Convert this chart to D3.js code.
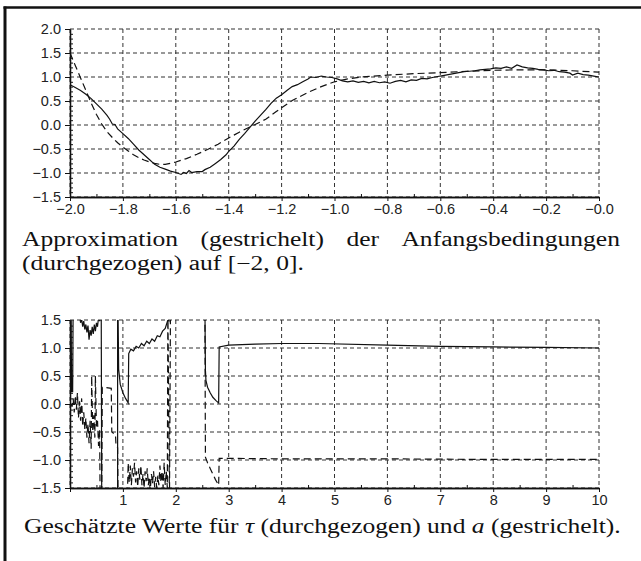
<!DOCTYPE html>
<html>
<head>
<meta charset="utf-8">
<script src="https://cdn.jsdelivr.net/npm/d3@7"></script>
<style>
  body { margin: 0; background: #fff; }
  svg { display: block; }
  .tick text { font-family: "Liberation Sans", Arial, sans-serif; font-size: 14.5px; fill: #222; }
  .cap { font-family: "Liberation Serif", "DejaVu Serif", serif; font-size: 20px; fill: #111; }
</style>
</head>
<body>
<svg id="wykres"></svg>
<script>
// dane - wykres górny (warunki początkowe na [-2,0])
let topSolidX = [-2.00,-1.98,-1.96,-1.94,-1.92,-1.90,-1.88,-1.86,-1.85,-1.84,-1.83,-1.82,-1.80,-1.78,-1.76,-1.74,-1.72,-1.70,-1.68,-1.66,-1.64,-1.62,-1.60,-1.58,-1.57,-1.56,-1.55,-1.54,-1.52,-1.50,-1.49,-1.47,-1.45,-1.43,-1.41,-1.40,-1.38,-1.36,-1.34,-1.32,-1.30,-1.28,-1.26,-1.24,-1.22,-1.20,-1.18,-1.16,-1.14,-1.12,-1.10,-1.09,-1.07,-1.05,-1.03,-1.01,-0.99,-0.97,-0.95,-0.93,-0.91,-0.89,-0.87,-0.85,-0.83,-0.81,-0.79,-0.77,-0.75,-0.73,-0.71,-0.69,-0.67,-0.65,-0.63,-0.61,-0.59,-0.57,-0.55,-0.53,-0.51,-0.49,-0.47,-0.45,-0.43,-0.41,-0.39,-0.37,-0.35,-0.33,-0.31,-0.29,-0.27,-0.25,-0.23,-0.21,-0.19,-0.17,-0.15,-0.13,-0.11,-0.10,-0.08,-0.06,-0.04,-0.02,0.00];
let topSolidY = [0.84,0.78,0.72,0.64,0.55,0.44,0.33,0.20,0.12,0.02,0.01,-0.08,-0.18,-0.28,-0.40,-0.52,-0.62,-0.72,-0.82,-0.88,-0.92,-0.96,-0.99,-1.03,-0.99,-1.01,-0.95,-0.99,-0.97,-0.97,-0.93,-0.88,-0.80,-0.72,-0.62,-0.55,-0.44,-0.30,-0.18,-0.05,0.08,0.20,0.32,0.45,0.56,0.63,0.72,0.80,0.84,0.90,0.96,1.00,0.99,1.02,1.00,0.99,0.96,0.92,0.90,0.92,0.89,0.91,0.88,0.91,0.88,0.90,0.87,0.91,0.93,0.90,0.94,0.93,0.97,0.96,0.99,1.01,1.03,1.05,1.07,1.09,1.11,1.12,1.13,1.15,1.16,1.17,1.19,1.18,1.21,1.18,1.25,1.21,1.19,1.18,1.16,1.15,1.13,1.14,1.11,1.10,1.08,1.04,1.08,1.05,1.04,1.02,1.00];
let topDashedX = [-2.00,-1.98,-1.96,-1.94,-1.92,-1.90,-1.88,-1.86,-1.84,-1.82,-1.80,-1.78,-1.76,-1.74,-1.72,-1.70,-1.68,-1.66,-1.64,-1.62,-1.60,-1.56,-1.52,-1.48,-1.44,-1.40,-1.36,-1.32,-1.30,-1.26,-1.22,-1.20,-1.16,-1.10,-1.05,-1.00,-0.95,-0.90,-0.80,-0.70,-0.60,-0.50,-0.40,-0.30,-0.20,-0.10,0.00];
let topDashedY = [1.50,1.24,0.98,0.72,0.46,0.22,0.02,-0.14,-0.26,-0.37,-0.46,-0.54,-0.62,-0.68,-0.73,-0.77,-0.80,-0.82,-0.82,-0.80,-0.77,-0.70,-0.61,-0.51,-0.40,-0.27,-0.15,-0.04,0.01,0.12,0.28,0.36,0.51,0.68,0.80,0.90,0.96,1.00,1.04,1.07,1.09,1.12,1.14,1.15,1.15,1.13,1.10];

// dane - wykres dolny (tau ciągła, a przerywana)
let tauT = [0.00,0.02,0.03,0.05,0.06,0.18,0.20,0.22,0.24,0.26,0.28,0.30,0.32,0.34,0.36,0.38,0.40,0.42,0.44,0.46,0.48,0.50,0.52,0.54,0.56,0.58,0.59,0.60,0.90,0.90,0.91,0.92,0.95,1.00,1.05,1.10,1.11,1.15,1.20,1.25,1.30,1.35,1.40,1.45,1.50,1.55,1.60,1.65,1.70,1.75,1.80,1.85,1.87,1.88,2.55,2.56,2.57,2.60,2.65,2.70,2.76,2.81,2.82,3.00,3.50,4.00,4.70,6.00,7.00,8.00,9.00,10.00];
let tauV = [1.8,1.8,0.22,0.22,1.8,1.6,1.45,1.52,1.38,1.48,1.33,1.42,1.28,1.40,1.15,1.32,1.22,1.38,1.25,1.42,1.30,1.45,1.38,1.55,1.48,1.60,1.8,-1.8,-1.8,1.8,1.5,0.62,0.35,0.20,0.10,0.02,0.90,0.98,0.95,1.03,1.00,1.08,1.04,1.12,1.08,1.16,1.12,1.22,1.20,1.30,1.35,1.50,1.48,1.8,1.8,0.60,0.42,0.30,0.20,0.12,0.06,0.02,1.02,1.05,1.07,1.08,1.08,1.05,1.03,1.02,1.01,1.00];
let aT = [0.02,0.04,0.06,0.08,0.10,0.12,0.14,0.16,0.18,0.20,0.22,0.24,0.26,0.28,0.30,0.32,0.34,0.36,0.38,0.40,0.41,0.43,0.45,0.47,0.48,0.50,0.52,0.54,0.56,0.57,0.60,0.61,0.78,0.79,0.86,0.87,0.90,0.91,1.08,1.10,1.12,1.14,1.16,1.18,1.20,1.22,1.24,1.26,1.28,1.30,1.32,1.34,1.36,1.38,1.40,1.42,1.44,1.46,1.48,1.50,1.52,1.54,1.56,1.58,1.60,1.62,1.64,1.66,1.68,1.70,1.72,1.74,1.76,1.78,1.80,1.82,1.84,1.85,1.88,1.90,2.55,2.56,2.60,2.65,2.70,2.75,2.81,2.82,3.00,4.00,6.00,8.00,10.00];
let aV = [0.00,-0.05,0.10,-0.15,0.15,-0.10,0.20,-0.25,0.05,-0.30,0.10,-0.40,-0.15,-0.45,-0.25,-0.60,-0.35,-0.70,-0.30,-0.80,0.50,-0.50,-0.20,-0.60,0.50,-0.40,-0.30,-0.75,-0.45,-1.8,-1.8,0.30,0.28,-0.50,-0.55,-0.75,-0.78,-1.8,-1.8,-1.05,-1.40,-1.10,-1.45,-1.15,-1.30,-1.05,-1.40,-1.20,-1.48,-1.15,-1.35,-1.10,-1.45,-1.25,-1.50,-1.20,-1.38,-1.15,-1.45,-1.30,-1.50,-1.25,-1.42,-1.20,-1.48,-1.30,-1.50,-1.28,-1.45,-1.10,-1.40,-1.20,-1.50,-1.05,-1.45,-1.20,-1.50,1.8,-1.8,1.8,1.8,-0.95,-1.05,-1.15,-1.25,-1.35,-1.45,-0.97,-0.97,-0.98,-0.98,-0.99,-0.99];

// osie
let topXTicks = [-2.0,-1.8,-1.6,-1.4,-1.2,-1.0,-0.8,-0.6,-0.4,-0.2,0.0];
let topXLabels = ['−2.0','−1.8','−1.6','−1.4','−1.2','−1.0','−0.8','−0.6','−0.4','−0.2','−0.0'];
let topYTicks = [2.0,1.5,1.0,0.5,0.0,-0.5,-1.0,-1.5];
let topYLabels = ['2.0','1.5','1.0','0.5','0.0','−0.5','−1.0','−1.5'];
let botXTicks = [0,1,2,3,4,5,6,7,8,9,10];
let botXLabels = ['','1','2','3','4','5','6','7','8','9','10'];
let botYTicks = [1.5,1.0,0.5,0.0,-0.5,-1.0,-1.5];
let botYLabels = ['1.5','1.0','0.5','0.0','−0.5','−1.0','−1.5'];

let podpis1 = ['Approximation','(gestrichelt)','der','Anfangsbedingungen'];
let podpis2 = '(durchgezogen) auf [−2, 0].';

let svg = d3.select('#wykres').attr('width', 641).attr('height', 561);

// ramka
svg.append('line').attr('x1', 5).attr('x2', 5).attr('y1', 6.5).attr('y2', 561).attr('stroke', '#111').attr('stroke-width', 3);
svg.append('line').attr('x1', 3.5).attr('x2', 641).attr('y1', 7.5).attr('y2', 7.5).attr('stroke', '#111').attr('stroke-width', 2.5);

function wykres(id, xd, yd, top, bottom, xTicks, xLabels, xMinor, yTicks, yLabels, yMinor, serie) {
	let x = d3.scaleLinear().domain(xd).range([70, 599]);
	let y = d3.scaleLinear().domain(yd).range([bottom, top]);
	let g = svg.append('g');

	g.append('clipPath').attr('id', id).append('rect')
		.attr('x', 70).attr('y', top).attr('width', 529).attr('height', bottom - top);

	// siatka
	g.selectAll('.gx').data(xTicks).enter().append('line')
		.attr('x1', d => x(d)).attr('x2', d => x(d)).attr('y1', top).attr('y2', bottom)
		.attr('stroke', '#333').attr('stroke-width', 1).attr('stroke-dasharray', '4,3');
	g.selectAll('.gy').data(yTicks).enter().append('line')
		.attr('x1', 70).attr('x2', 599).attr('y1', d => y(d)).attr('y2', d => y(d))
		.attr('stroke', '#333').attr('stroke-width', 1).attr('stroke-dasharray', '4,3');

	// linie
	let line = d3.line().x(d => x(d[0])).y(d => y(d[1]));
	serie.forEach(s => {
		g.append('path')
			.datum(d3.zip(s.x, s.y))
			.attr('d', line)
			.attr('clip-path', 'url(#' + id + ')')
			.attr('fill', 'none')
			.attr('stroke', '#111')
			.attr('stroke-width', 1.2)
			.attr('stroke-dasharray', s.dash);
	});

	// osie
	let yAxis = d3.axisLeft(y).tickValues(yTicks).tickSize(5).tickSizeOuter(0).tickPadding(4)
		.tickFormat((d, i) => yLabels[i]);
	let yMin = d3.axisRight(y).tickValues(yMinor).tickSize(3).tickSizeOuter(0).tickFormat('');
	let xAxis = d3.axisBottom(x).tickValues(xTicks).tickSize(4).tickSizeOuter(0).tickPadding(3)
		.tickFormat((d, i) => xLabels[i]);
	let xMin = d3.axisTop(x).tickValues(xMinor).tickSize(3).tickSizeOuter(0).tickFormat('');

	[[yAxis, 'translate(70,0)'], [yMin, 'translate(70,0)'], [xAxis, 'translate(0,' + bottom + ')'], [xMin, 'translate(0,' + bottom + ')']]
		.forEach(a => {
			let ax = g.append('g').attr('transform', a[1]).call(a[0]);
			ax.select('.domain').attr('stroke', '#111').attr('stroke-width', 1.3);
			ax.selectAll('.tick line').attr('stroke', '#111');
		});
}

wykres('c1', [-2, 0], [-1.5, 2], 29, 197, topXTicks, topXLabels, d3.range(-19, 0, 2).map(d => d / 10),
	topYTicks, topYLabels, d3.range(-15, 21, 1).map(d => d / 10).filter(d => Math.round(d * 10) % 5 != 0),
	[{x: topSolidX, y: topSolidY, dash: null}, {x: topDashedX, y: topDashedY, dash: '7,4'}]);

wykres('c2', [0, 10], [-1.5, 1.5], 320, 488, botXTicks, botXLabels, d3.range(0.5, 10, 1),
	botYTicks, botYLabels, d3.range(-15, 16, 1).map(d => d / 10).filter(d => Math.round(d * 10) % 5 != 0),
	[{x: tauT, y: tauV, dash: null}, {x: aT, y: aV, dash: '7,4'}]);

// podpis 2 - najpierw, z niego współczynnik rozciągnięcia czcionki
let p3 = svg.append('text').attr('class', 'cap');
p3.append('tspan').text('Geschätzte Werte für ');
p3.append('tspan').attr('font-style', 'italic').text('τ');
p3.append('tspan').text(' (durchgezogen) und ');
p3.append('tspan').attr('font-style', 'italic').text('a');
p3.append('tspan').text(' (gestrichelt).');
let sx = 597 / p3.node().getComputedTextLength();
p3.attr('transform', 'translate(24,533) scale(' + sx + ',1)');

// podpis 1 - wyjustowany
let w = podpis1.map(s => {
	let t = svg.append('text').attr('class', 'cap').text(s);
	let l = t.node().getComputedTextLength() * sx;
	t.remove();
	return l;
});
let gap = (620 - 22 - d3.sum(w)) / (podpis1.length - 1);
let pos = 22;
podpis1.forEach((s, i) => {
	svg.append('text').attr('class', 'cap').attr('transform', 'translate(' + pos + ',246) scale(' + sx + ',1)').text(s);
	pos += w[i] + gap;
});
svg.append('text').attr('class', 'cap').attr('transform', 'translate(22,270) scale(' + sx + ',1)').text(podpis2);
</script>
</body>
</html>
